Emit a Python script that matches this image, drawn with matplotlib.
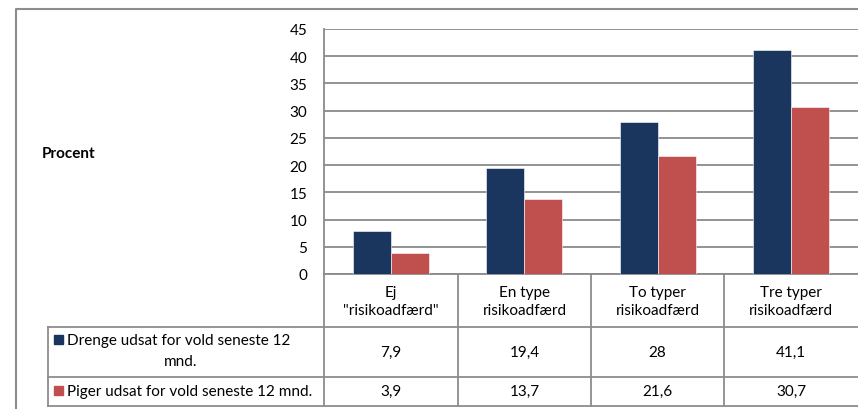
import matplotlib
matplotlib.use("Agg")
import matplotlib.pyplot as plt
from matplotlib.patches import Rectangle

plt.rcParams['font.family'] = ['Lato', 'DejaVu Sans']

categories = ['Ej\n"risikoadfærd"', 'En type\nrisikoadfærd', 'To typer\nrisikoadfærd', 'Tre typer\nrisikoadfærd']
series_names = ['Drenge udsat for vold seneste 12\nmnd.', 'Piger udsat for vold seneste 12 mnd.']
drenge = [7.9, 19.4, 28, 41.1]
piger = [3.9, 13.7, 21.6, 30.7]
drenge_labels = ['7,9', '19,4', '28', '41,1']
piger_labels = ['3,9', '13,7', '21,6', '30,7']
yticks = [0, 5, 10, 15, 20, 25, 30, 35, 40, 45]

blue = '#1a365f'
red = '#c0504d'
grid = '#8a8a8a'
fs = 11

W, H = 858, 410
fig = plt.figure(figsize=(W / 100, H / 100), dpi=100)

# overlay for frame and table
ov = fig.add_axes([0, 0, 1, 1])
ov.set_xlim(0, W)
ov.set_ylim(H, 0)
ov.axis('off')

px_left, px_top, px_bottom, px_right = 324, 30, 275, 858
ax = fig.add_axes([px_left / W, (H - px_bottom) / H, (px_right - px_left) / W, (px_bottom - px_top) / H])
ax.set_xlim(-0.5, 3.5)
ax.set_ylim(0, 45)
ax.set_yticks(yticks)
ax.set_yticklabels([str(v) for v in yticks], fontsize=fs)
ax.set_xticks([])
ax.tick_params(axis='y', length=0, pad=12)
ax.grid(axis='y', color=grid, linewidth=1.3)
ax.set_axisbelow(True)
for s in ['top', 'right']:
    ax.spines[s].set_visible(False)
ax.spines['left'].set_color(grid)
ax.spines['left'].set_linewidth(1.3)
ax.spines['bottom'].set_color(grid)
ax.spines['bottom'].set_linewidth(1.3)
ax.patch.set_alpha(0)

bw = 0.283
x = list(range(len(categories)))
ax.bar([i - bw / 2 for i in x], drenge, width=bw, color=blue, edgecolor='white', linewidth=0.4, zorder=3)
ax.bar([i + bw / 2 for i in x], piger, width=bw, color=red, edgecolor='white', linewidth=0.4, zorder=3)

# outer frame
ov.plot([16, 16, W], [H, 10, 10], color='#8c8c8c', lw=1.5, solid_capstyle='butt')

fig.text(42 / W, 1 - 154 / H, 'Procent', fontsize=fs, fontweight='bold', ha='left', va='center')

# table
col_edges = [324, 458, 591, 724, 858]
row_y = [275, 328, 378, 407]
lc = '#8c8c8c'
for xe in col_edges[:-1]:
    ov.plot([xe, xe], [275, 407], color=lc, lw=1.3)
ov.plot([48, 48], [328, 407], color=lc, lw=1.3)
for ye in row_y[1:]:
    ov.plot([48, W], [ye, ye], color=lc, lw=1.3)

centers = [(col_edges[i] + col_edges[i + 1]) / 2 for i in range(4)]
for c, lab in zip(centers, categories):
    ov.text(c, 302, lab, ha='center', va='center', fontsize=fs, linespacing=1.4)
for c, lab in zip(centers, drenge_labels):
    ov.text(c, 353, lab, ha='center', va='center', fontsize=fs)
for c, lab in zip(centers, piger_labels):
    ov.text(c, 392, lab, ha='center', va='center', fontsize=fs)

# legend keys in table
ov.add_patch(Rectangle((54, 336), 9, 9, color=blue))
ov.text(67, 341, series_names[0].split('\n')[0], ha='left', va='center', fontsize=fs)
ov.text(181, 362, series_names[0].split('\n')[1], ha='center', va='center', fontsize=fs)
ov.add_patch(Rectangle((54, 387), 9, 9, color=red))
ov.text(67, 392, series_names[1], ha='left', va='center', fontsize=fs)

fig.savefig('out.png', dpi=100)
